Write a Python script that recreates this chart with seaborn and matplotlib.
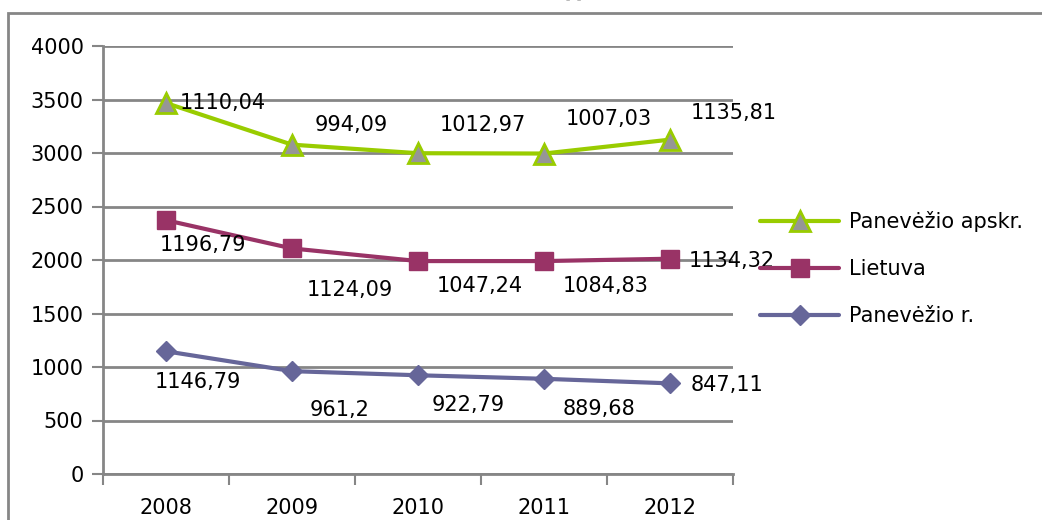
import matplotlib
matplotlib.use("Agg")
import matplotlib.pyplot as plt
import seaborn as sns
import pandas as pd
from matplotlib.patches import Rectangle
from matplotlib.lines import Line2D

years = ["2008", "2009", "2010", "2011", "2012"]
apskr_values = [3467, 3078, 2998, 2995, 3125]
lietuva_values = [2372, 2108, 1990, 1990, 2012]
rajonas_values = [1146.79, 961.2, 922.79, 889.68, 847.11]
apskr_labels = ["1110,04", "994,09", "1012,97", "1007,03", "1135,81"]
lietuva_labels = ["1196,79", "1124,09", "1047,24", "1084,83", "1134,32"]
rajonas_labels = ["1146,79", "961,2", "922,79", "889,68", "847,11"]
series_names = ["Panevėžio apskr.", "Lietuva", "Panevėžio r."]
yticks = [0, 500, 1000, 1500, 2000, 2500, 3000, 3500, 4000]

sns.set_theme(style="white")
plt.rcParams["font.family"] = ["DejaVu Sans"]
plt.rcParams["text.color"] = "black"

W, H = 1042, 520
fig = plt.figure(figsize=(W / 100, H / 100), dpi=100)
ax = fig.add_axes([103 / W, 1 - 474 / H, (733 - 103) / W, (474 - 46) / H])

grid_c = "#868686"
green = "#99CC00"
magenta = "#993366"
blue = "#666699"
FS = 15

df = pd.DataFrame({
    "year": years * 3,
    "x": list(range(len(years))) * 3,
    "value": apskr_values + lietuva_values + rajonas_values,
    "series": [series_names[0]] * 5 + [series_names[1]] * 5 + [series_names[2]] * 5,
})

palette = {series_names[0]: green, series_names[1]: magenta, series_names[2]: blue}
sns.lineplot(data=df, x="x", y="value", hue="series", palette=palette,
             linewidth=3, ax=ax, legend=False, zorder=3)

sub = df[df.series == series_names[0]]
ax.plot(sub.x, sub.value, linestyle="none", marker="^", markersize=15,
        markerfacecolor="#969696", markeredgecolor=green, markeredgewidth=2, zorder=4)
sub = df[df.series == series_names[1]]
ax.plot(sub.x, sub.value, linestyle="none", marker="s", markersize=12.5,
        markerfacecolor=magenta, markeredgecolor=magenta, zorder=4)
sub = df[df.series == series_names[2]]
ax.plot(sub.x, sub.value, linestyle="none", marker="D", markersize=10.5,
        markerfacecolor=blue, markeredgecolor=blue, zorder=4)

ax.set_xlim(-0.5, 4.5)
ax.set_ylim(0, 4000)
ax.set_yticks(yticks)
ax.set_yticklabels([str(v) for v in yticks])
ax.set_xticks(range(len(years)))
ax.set_xticklabels(years)
ax.set_xticks([i - 0.5 for i in range(len(years) + 1)], minor=True)
ax.set_xlabel("")
ax.set_ylabel("")
ax.grid(axis="y", color=grid_c, linewidth=2, zorder=0)
ax.grid(axis="x", visible=False)
for s in ["top", "right"]:
    ax.spines[s].set_visible(False)
for s in ["left", "bottom"]:
    ax.spines[s].set_color(grid_c)
    ax.spines[s].set_linewidth(2)
ax.tick_params(axis="y", which="major", length=8, width=1.5, color=grid_c,
               labelsize=FS, pad=6, left=True, direction="out")
ax.tick_params(axis="x", which="major", length=0, labelsize=FS, pad=17)
ax.tick_params(axis="x", which="minor", length=8, width=1.5, color=grid_c,
               bottom=True, direction="out")
for lab in ax.get_yticklabels() + ax.get_xticklabels():
    lab.set_color("black")

lab_kw = dict(fontsize=FS, color="black", zorder=5)
g_off = [(14, 0), (23, 20), (22, 28), (22, 35), (21, 27)]
for i, (t, (dx, dy)) in enumerate(zip(apskr_labels, g_off)):
    ax.annotate(t, (i, apskr_values[i]), xytext=(dx, dy), textcoords="offset pixels",
                ha="left", va="center", **lab_kw)
m_off = [(-6, -25), (15, -42), (19, -25), (19, -25), (19, -2)]
for i, (t, (dx, dy)) in enumerate(zip(lietuva_labels, m_off)):
    ax.annotate(t, (i, lietuva_values[i]), xytext=(dx, dy), textcoords="offset pixels",
                ha="left", va="center", **lab_kw)
b_off = [(-11, -31), (18, -39), (14, -30), (19, -30), (21, -2)]
for i, (t, (dx, dy)) in enumerate(zip(rajonas_labels, b_off)):
    ax.annotate(t, (i, rajonas_values[i]), xytext=(dx, dy), textcoords="offset pixels",
                ha="left", va="center", **lab_kw)

handles = [
    Line2D([], [], color=green, linewidth=3, marker="^", markersize=15,
           markerfacecolor="#969696", markeredgecolor=green, markeredgewidth=2),
    Line2D([], [], color=magenta, linewidth=3, marker="s", markersize=12.5,
           markerfacecolor=magenta, markeredgecolor=magenta),
    Line2D([], [], color=blue, linewidth=3, marker="D", markersize=10.5,
           markerfacecolor=blue, markeredgecolor=blue),
]
leg = fig.legend(handles, series_names, loc="upper left",
                 bbox_to_anchor=(760 / W, 1 - 211 / H), frameon=False,
                 fontsize=FS, handlelength=3.8, handletextpad=0.45,
                 labelspacing=1.3, borderaxespad=0, borderpad=0)
for t in leg.get_texts():
    t.set_color("black")

fig.patches.append(Rectangle((8 / W, -0.2), 1.2, 1 - 13 / H + 0.2,
                             transform=fig.transFigure, fill=False,
                             edgecolor=grid_c, linewidth=2))
fig.text(565 / W, 1.0 + 7 / H, "[·]·)", fontsize=12, ha="left", va="center", color="black")

fig.savefig("out.png", dpi=100)
